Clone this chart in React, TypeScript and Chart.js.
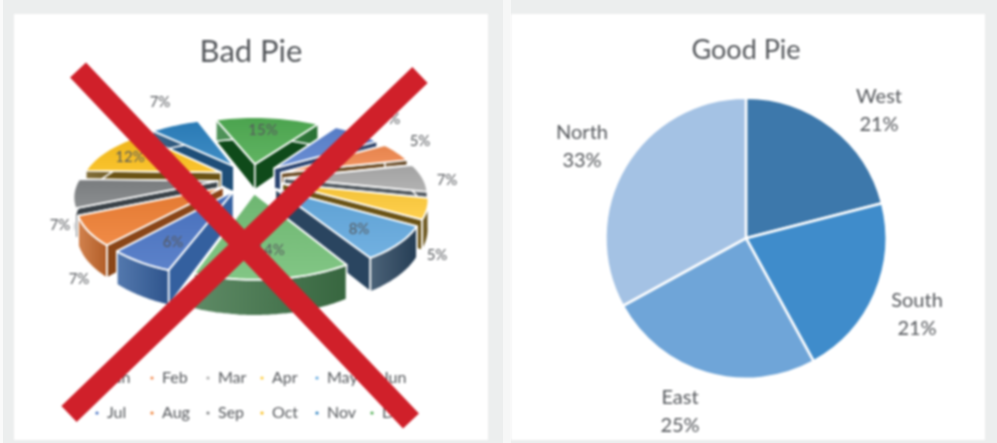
import React, { useEffect, useRef } from "react";
import { Chart, registerables } from "chart.js";

Chart.register(...registerables);

// ---- data ----
const badMonths = ["Jan", "Feb", "Mar", "Apr", "May", "Jun", "Jul", "Aug", "Sep", "Oct", "Nov", "Dec"];
const badShares = [7, 5, 7, 5, 8, 14, 6, 7, 7, 12, 7, 15];
const goodRegions = ["West", "South", "East", "North"];
const goodShares = [21, 21, 25, 33];

// ---- styles ----
const badTopColors = ["#5B82CF", "#F28A50", "#ABABAB", "#FFCB3A", "#62A8DE", "#74C077", "#4A74C4", "#EE7E32", "#7F8285", "#F9BD18", "#2B80BF", "#4FAC52"];
const badWallColors = ["#2B4470", "#6B4A22", "#50585E", "#6B5315", "#2A4560", "#3F7448", "#34609F", "#C96A2C", "#3A4248", "#6B5314", "#1E4E78", "#2F7F3A"];
const badRadialColors = ["#2B4470", "#6B4A22", "#50585E", "#6B5315", "#2A4560", "#3F7448", "#34609F", "#8A4618", "#3A4248", "#6B5314", "#1E4E78", "#0F4A1A"];
const goodColors = ["#3D78AB", "#3F8CCB", "#6FA5D8", "#A4C2E4"];
const TEXT = "#55585c";
const FONT = "Lato";
const RED = "#D0202A";

// perspective of the tilted pie (page pixels per unit of pie radius)
const PIE = { wide: 172, tall: 76.3, persp: 0.25, depth: 27 };
// [x, y] of the percentage labels on the left chart, inside its canvas
const badLabelAt = [[376, 105], [406, 127], [433, 166], [423, 241], [345, 215], [256, 236], [159, 228], [65, 265], [46, 211], [116, 143], [146, 88], [249, 116]];
// centres of the legend columns/rows on the left chart
const legendCols = [83, 138, 194, 248, 303, 358];
const legendRows = [364, 399];
// X strokes over the bad pie
const crossStrokes = [[[64, 56], [397, 407]], [[406, 61], [55, 400]]];
// centre of the label blocks of the right chart, relative to pie centre
const goodLabelOffset = [[133, -128], [171, 76], [-66, 173], [-164, -92]];

function shade(hex: string, f: number) {
  const n = parseInt(hex.slice(1), 16);
  const c = [n >> 16, (n >> 8) & 255, n & 255].map((v) =>
    Math.round(f >= 0 ? v + (255 - v) * f : v * (1 + f))
  );
  return `rgb(${c[0]},${c[1]},${c[2]})`;
}

const tiltedPiePlugin = {
  id: "tiltedPie",
  beforeDatasetsDraw(chart: any) {
    const ctx = chart.ctx;
    const arcs = chart.getDatasetMeta(0).data;
    const faces = arcs.map((arc: any, i: number) => {
      const off = arc.options.offset || 0;
      const R = arc.outerRadius + off;
      const mid = (arc.startAngle + arc.endAngle) / 2;
      const ox = (Math.cos(mid) * off) / R;
      const oy = (Math.sin(mid) * off) / R;
      const r = arc.outerRadius / R;
      const pts: [number, number][] = [];
      const steps = Math.max(6, Math.round((arc.endAngle - arc.startAngle) * 24));
      for (let s = 0; s <= steps; s++) {
        const a = arc.startAngle + ((arc.endAngle - arc.startAngle) * s) / steps;
        pts.push([ox + r * Math.cos(a), oy + r * Math.sin(a)]);
      }
      return { i, ox, oy, pts, cx: arc.x, cy: arc.y, sort: oy + r * 0.6 * Math.sin(mid) };
    });
    const project = (f: any, p: [number, number], z: number) => {
      const s = 1 / (1 - PIE.persp * p[1]);
      return [f.cx + PIE.wide * p[0] * s, f.cy + PIE.tall * p[1] * s + PIE.depth * z * s];
    };
    const poly = (points: number[][]) => {
      ctx.beginPath();
      points.forEach((q, k) => (k ? ctx.lineTo(q[0], q[1]) : ctx.moveTo(q[0], q[1])));
      ctx.closePath();
    };
    faces.sort((a: any, b: any) => a.sort - b.sort);
    ctx.save();
    ctx.lineJoin = "round";
    faces.forEach((f: any) => {
      const tip: [number, number] = [f.ox, f.oy];
      const rim = f.pts as [number, number][];
      const wall = (a: [number, number], b: [number, number]) => [
        project(f, a, 0), project(f, b, 0), project(f, b, 1), project(f, a, 1),
      ];
      ctx.strokeStyle = "#fff";
      ctx.lineWidth = 1.6;
      // the two radial walls, far one first
      const radial = [wall(tip, rim[0]), wall(tip, rim[rim.length - 1])];
      const rank = [rim[0], rim[rim.length - 1]];
      const order = rank[0][1] < rank[1][1] ? [0, 1] : [1, 0];
      order.forEach((k) => {
        poly(radial[k]);
        ctx.fillStyle = badRadialColors[f.i];
        ctx.fill();
        ctx.stroke();
      });
      // the curved outer wall
      const up = rim.map((p) => project(f, p, 0));
      const down = rim.map((p) => project(f, p, 1)).reverse();
      const outer = up.concat(down);
      const xs = outer.map((q) => q[0]);
      const grad = ctx.createLinearGradient(Math.min(...xs), 0, Math.max(...xs), 0);
      grad.addColorStop(0, shade(badWallColors[f.i], 0.16));
      grad.addColorStop(1, shade(badWallColors[f.i], -0.12));
      poly(outer);
      ctx.fillStyle = grad;
      ctx.fill();
      ctx.stroke();
      // the top face
      const top = [project(f, tip, 0)].concat(up);
      const ys = top.map((q) => q[1]);
      const tg = ctx.createLinearGradient(0, Math.min(...ys), 0, Math.max(...ys));
      tg.addColorStop(0, shade(badTopColors[f.i], -0.05));
      tg.addColorStop(1, shade(badTopColors[f.i], 0.1));
      poly(top);
      ctx.fillStyle = tg;
      ctx.fill();
      ctx.lineWidth = 1.8;
      ctx.stroke();
    });
    ctx.restore();
    return false;
  },
  afterDraw(chart: any) {
    const ctx = chart.ctx;
    ctx.save();
    ctx.textAlign = "center";
    ctx.textBaseline = "middle";
    ctx.fillStyle = TEXT;
    ctx.font = `15px ${FONT}`;
    badShares.forEach((v, i) => {
      ctx.fillText(`${v}%`, badLabelAt[i][0], badLabelAt[i][1]);
    });
    // legend
    ctx.font = `16px ${FONT}`;
    ctx.textAlign = "left";
    badMonths.forEach((m, i) => {
      const col = i % 6;
      const x = legendCols[col];
      const y = legendRows[Math.floor(i / 6)];
      ctx.fillStyle = badTopColors[i];
      ctx.beginPath();
      ctx.arc(x, y, 1.6, 0, Math.PI * 2);
      ctx.fill();
      ctx.fillStyle = TEXT;
      ctx.fillText(m, x + 10, y);
    });
    // the cross
    ctx.strokeStyle = RED;
    ctx.lineWidth = 22;
    ctx.lineCap = "butt";
    crossStrokes.forEach(([a, b]) => {
      ctx.beginPath();
      ctx.moveTo(a[0], a[1]);
      ctx.lineTo(b[0], b[1]);
      ctx.stroke();
    });
    ctx.restore();
  },
};

const goodLabelPlugin = {
  id: "goodLabels",
  afterDatasetsDraw(chart: any) {
    const ctx = chart.ctx;
    const arcs = chart.getDatasetMeta(0).data;
    ctx.save();
    ctx.textAlign = "center";
    ctx.textBaseline = "middle";
    ctx.fillStyle = TEXT;
    ctx.font = `20px ${FONT}`;
    arcs.forEach((arc: any, i: number) => {
      const x = arc.x + goodLabelOffset[i][0];
      const y = arc.y + goodLabelOffset[i][1];
      ctx.fillText(goodRegions[i], x, y - 14);
      ctx.fillText(`${goodShares[i]}%`, x, y + 14);
    });
    ctx.restore();
  },
};

const titleOf = (text: string, size: number, bottom: number) => ({
  display: true,
  text,
  color: TEXT,
  font: { family: FONT, size, weight: "normal" as const },
  padding: { top: 0, bottom },
});

const frame: React.CSSProperties = { position: "absolute", top: 14, width: 474, height: 426, background: "#fff", filter: "blur(0.8px)" };

export default function App() {
  const badRef = useRef<HTMLCanvasElement>(null);
  const goodRef = useRef<HTMLCanvasElement>(null);

  useEffect(() => {
    const bad = new Chart(badRef.current!, {
      type: "pie",
      data: { labels: badMonths, datasets: [{ data: badShares, backgroundColor: badTopColors, offset: 17, borderWidth: 0 }] },
      plugins: [tiltedPiePlugin],
      options: {
        responsive: false,
        animation: false,
        rotation: 34,
        layout: { padding: { top: 19, bottom: 182, left: 0, right: 0 } },
        plugins: { legend: { display: false }, tooltip: { enabled: false }, title: titleOf("Bad Pie", 31, 28) },
      },
    } as any);
    const good = new Chart(goodRef.current!, {
      type: "pie",
      data: { labels: goodRegions, datasets: [{ data: goodShares, backgroundColor: goodColors, borderColor: "#fff", borderWidth: 2.5 }] },
      plugins: [goodLabelPlugin],
      options: {
        responsive: false,
        animation: false,
        layout: { padding: { top: 20, bottom: 60, left: 93, right: 97 } },
        plugins: { legend: { display: false }, tooltip: { enabled: false }, title: titleOf("Good Pie", 27, 30) },
      },
    } as any);
    return () => {
      bad.destroy();
      good.destroy();
    };
  }, []);

  return (
    <div style={{ position: "fixed", inset: 0, overflow: "hidden", background: "#eceeee" }}>
      <div style={{ position: "absolute", left: 0, top: 0, width: 3, bottom: 0, background: "#fafafa" }} />
      <div style={{ position: "absolute", left: 503, top: 0, width: 8, bottom: 0, background: "#f6f7f7" }} />
      <div style={{ ...frame, left: 14 }}>
        <canvas ref={badRef} width={474} height={426} style={{ display: "block" }} />
      </div>
      <div style={{ ...frame, left: 511 }}>
        <canvas ref={goodRef} width={474} height={426} style={{ display: "block" }} />
      </div>
    </div>
  );
}
